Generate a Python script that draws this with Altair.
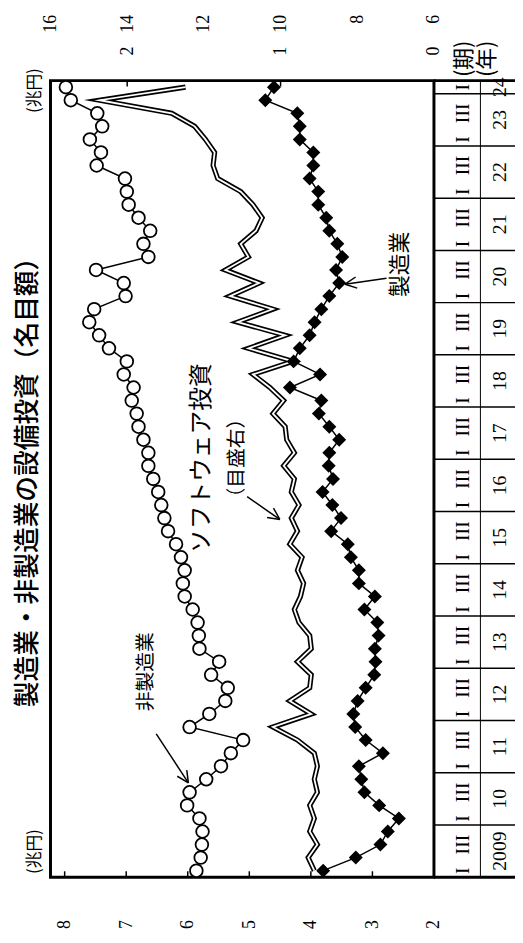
import math
import altair as alt
import pandas as pd

# ---------------- data ----------------
quarter_index = list(range(61))  # 2009 I ... 2024 I

mfg = [3.80, 3.27, 2.87, 2.75, 2.57, 2.89, 3.13, 3.18, 3.22, 2.83,
       3.11, 3.28, 3.31, 3.24, 3.11, 2.97, 2.95, 2.96, 2.90, 2.92,
       3.13, 2.96, 3.22, 3.22, 3.35, 3.40, 3.67, 3.51, 3.65, 3.81,
       3.64, 3.71, 3.70, 3.54, 3.70, 3.87, 3.83, 4.34, 3.85, 4.28,
       4.18, 4.02, 3.94, 3.83, 3.70, 3.54, 3.59, 3.49, 3.57, 3.70,
       3.75, 3.88, 3.88, 4.02, 3.96, 3.96, 4.18, 4.18, 4.22, 4.74, 4.60]

nonmfg = [5.86, 5.79, 5.77, 5.76, 5.81, 6.01, 5.97, 5.70, 5.46, 5.30,
          5.10, 5.97, 5.65, 5.39, 5.35, 5.62, 5.49, 5.81, 5.82, 5.84,
          5.92, 6.05, 6.08, 6.05, 6.11, 6.19, 6.32, 6.38, 6.43, 6.48,
          6.56, 6.64, 6.64, 6.72, 6.80, 6.83, 6.91, 6.88, 7.04, 6.99,
          7.28, 7.44, 7.60, 7.52, 7.01, 7.04, 7.49, 6.64, 6.72, 6.61,
          6.80, 6.96, 6.99, 7.02, 7.48, 7.41, 7.59, 7.39, 7.47, 7.90, 7.98]

software = [0.78, 0.82, 0.76, 0.81, 0.78, 0.81, 0.76, 0.78, 0.76, 0.78,
            0.89, 1.05, 0.80, 0.94, 0.81, 0.80, 0.89, 0.80, 0.81, 0.88,
            0.91, 0.87, 0.85, 0.89, 0.86, 0.94, 0.89, 0.93, 0.88, 0.93,
            0.91, 0.98, 0.91, 0.96, 0.97, 1.05, 0.98, 1.07, 1.18, 0.92,
            1.21, 0.97, 1.28, 1.05, 1.33, 1.14, 1.36, 1.21, 1.26, 1.16,
            1.12, 1.18, 1.26, 1.41, 1.44, 1.43, 1.49, 1.56, 1.71, 2.18, 1.62]

year_labels = ["2009", "10", "11", "12", "13", "14", "15", "16", "17",
               "18", "19", "20", "21", "22", "23", "24"]
quarter_labels = ["I", "III"]
left_ticks = [2, 3, 4, 5, 6, 7, 8]
right_outer_ticks = [6, 8, 10, 12, 14, 16]
right_inner_ticks = [0, 1, 2]

title_text = "製造業・非製造業の設備投資（名目額）"

# ---------------- layout ----------------
SERIF = "Liberation Serif"
JP = "Noto Sans CJK JP"
W, H = 388, 806

LEFT_DOM = [2, 8.23]
SOFT_DOM = [0, 2.5]
OUTER_DOM = [6, 16]
Y_SCALE = alt.Scale(domain=[-0.5, 60.5], nice=False, zero=False)


def xscale(dom):
    return alt.Scale(domain=dom, reverse=True, nice=False, zero=False)


def hax(orient, values, pad):
    return alt.Axis(orient=orient, values=values, labelAngle=270, labelAlign="right",
                    labelBaseline="middle", labelPadding=pad, ticks=False, tickSize=0,
                    domain=False, grid=False, labelFont=SERIF, labelFontSize=18,
                    labelColor="black", title=None, format="d", labelOverlap=False,
                    labelFlush=False, labelBound=False)


axA = hax("bottom", left_ticks, 43)
axB = hax("top", right_inner_ticks, 35)
axC = hax("top", right_outer_ticks, 67)

df = pd.DataFrame({"i": quarter_index, "mfg": mfg, "nonmfg": nonmfg, "soft": software})
yq = alt.Y("i:Q", scale=Y_SCALE, axis=None)


def xa(f):
    return alt.X(f"{f}:Q", scale=xscale(LEFT_DOM), axis=axA)


xb = alt.X("soft:Q", scale=xscale(SOFT_DOM), axis=axB)

sw_outer = alt.Chart(df).mark_line(color="black", strokeWidth=5.2, strokeJoin="miter",
                                   strokeMiterLimit=30).encode(x=xb, y=yq, order="i:Q")
sw_inner = alt.Chart(df).mark_line(color="white", strokeWidth=1.8, strokeJoin="miter",
                                   strokeMiterLimit=30).encode(x=xb, y=yq, order="i:Q")
software_layer = alt.layer(sw_outer, sw_inner)

nm_line = alt.Chart(df).mark_line(color="black", strokeWidth=1.5).encode(
    x=xa("nonmfg"), y=yq, order="i:Q")
nm_pts = alt.Chart(df).mark_point(shape="circle", size=165, fill="white", stroke="black",
                                  strokeWidth=1.8, opacity=1, fillOpacity=1).encode(
    x=xa("nonmfg"), y=yq)
mf_line = alt.Chart(df).mark_line(color="black", strokeWidth=1.5).encode(
    x=xa("mfg"), y=yq, order="i:Q")
mf_pts = alt.Chart(df).mark_point(shape="diamond", size=200, filled=True, color="black",
                                  opacity=1).encode(x=xa("mfg"), y=yq)
series_layer = alt.layer(nm_line, nm_pts, mf_line, mf_pts)

outer_axis_layer = alt.Chart(pd.DataFrame({"t": right_outer_ticks})).mark_point(opacity=0).encode(
    x=alt.X("t:Q", scale=xscale(OUTER_DOM), axis=axC), y=alt.value(0))

btm_ticks = alt.Chart(pd.DataFrame({"t": left_ticks[1:]})).mark_rule(
    color="black", strokeWidth=1.5).encode(
    x=alt.X("t:Q", scale=xscale(LEFT_DOM), axis=None), y=alt.value(H), y2=alt.value(H - 6))
top_ticks = alt.Chart(pd.DataFrame({"t": right_inner_ticks[1:]})).mark_rule(
    color="black", strokeWidth=1.5).encode(
    x=alt.X("t:Q", scale=xscale(SOFT_DOM), axis=None), y=alt.value(0), y2=alt.value(6))

# ---------------- time table on the right ----------------
TBL_END = W + 84
bounds = [4 * k - 0.5 for k in range(1, 16)]
tbl_lines = alt.Chart(pd.DataFrame({"b": bounds})).mark_rule(color="black", strokeWidth=1.5).encode(
    y=alt.Y("b:Q", scale=Y_SCALE, axis=None), x=alt.value(W), x2=alt.value(TBL_END))

q_rows = [{"i": i, "lab": quarter_labels[0] if i % 4 == 0 else quarter_labels[1]}
          for i in quarter_index if i % 4 in (0, 2)]
q_text = alt.Chart(pd.DataFrame(q_rows)).mark_text(
    angle=270, font=SERIF, fontSize=20, color="black", align="center", baseline="middle").encode(
    y=alt.Y("i:Q", scale=Y_SCALE, axis=None), x=alt.value(W + 29), text="lab:N")

y_pos = [4 * k + 1.5 for k in range(15)] + [60]
y_text = alt.Chart(pd.DataFrame({"i": y_pos, "lab": year_labels})).mark_text(
    angle=270, font=SERIF, fontSize=20, color="black", align="center", baseline="middle").encode(
    y=alt.Y("i:Q", scale=Y_SCALE, axis=None), x=alt.value(W + 67), text="lab:N")


def seg(x1, y1, x2, y2, w=1.5):
    return alt.Chart(pd.DataFrame({"k": [0]})).mark_rule(color="black", strokeWidth=w).encode(
        x=alt.value(x1), y=alt.value(y1), x2=alt.value(x2), y2=alt.value(y2))


def arrow(x1, y1, x2, y2, head=13, spread=26):
    ang = math.atan2(y1 - y2, x1 - x2)
    parts = [seg(x1, y1, x2, y2)]
    for s in (-1, 1):
        a = ang + s * math.radians(spread)
        parts.append(seg(x2, y2, x2 + head * math.cos(a), y2 + head * math.sin(a)))
    return parts


def txt(s, x, y, size, font=JP, weight="normal", angle=270):
    return alt.Chart(pd.DataFrame({"s": [s]})).mark_text(
        angle=angle, font=font, fontSize=size, fontWeight=weight, color="black",
        align="center", baseline="middle").encode(x=alt.value(x), y=alt.value(y), text="s:N")


frame = [
    seg(W, 0, TBL_END, 0, 3),
    seg(W, H, TBL_END, H, 3),
    seg(W + 47, 0, W + 47, H, 1),
]

texts = [
    txt(title_text, -23, 400, 26, weight=500),
    txt("(兆円)", -16, 10, 17),
    txt("(兆円)", -16, 780, 17),
    txt("(期)", 418, -22, 22),
    txt("(年)", 442, -22, 22),
    txt("ソフトウェア投資", 153, 382, 24),
    txt("（目盛右）", 189, 382, 20),
    txt("非製造業", 97, 598, 20),
    txt("製造業", 354, 186, 22),
]

arrows = (arrow(107, 661, 139.5, 710.5)
          + arrow(199, 421, 232, 444)
          + arrow(340, 200, 298, 206))

layers = ([software_layer, series_layer, outer_axis_layer, btm_ticks, top_ticks,
           tbl_lines, q_text, y_text] + frame + texts + arrows)

chart = alt.layer(*layers).resolve_scale(x="independent").properties(
    width=W, height=H,
    padding={"left": 43, "top": 68, "right": 82, "bottom": 53},
    autosize=alt.AutoSizeParams(type="none"),
    background="white",
).configure_view(stroke="black", strokeWidth=3)

chart.save("out.html", embed_options={"renderer": "svg", "actions": False})
